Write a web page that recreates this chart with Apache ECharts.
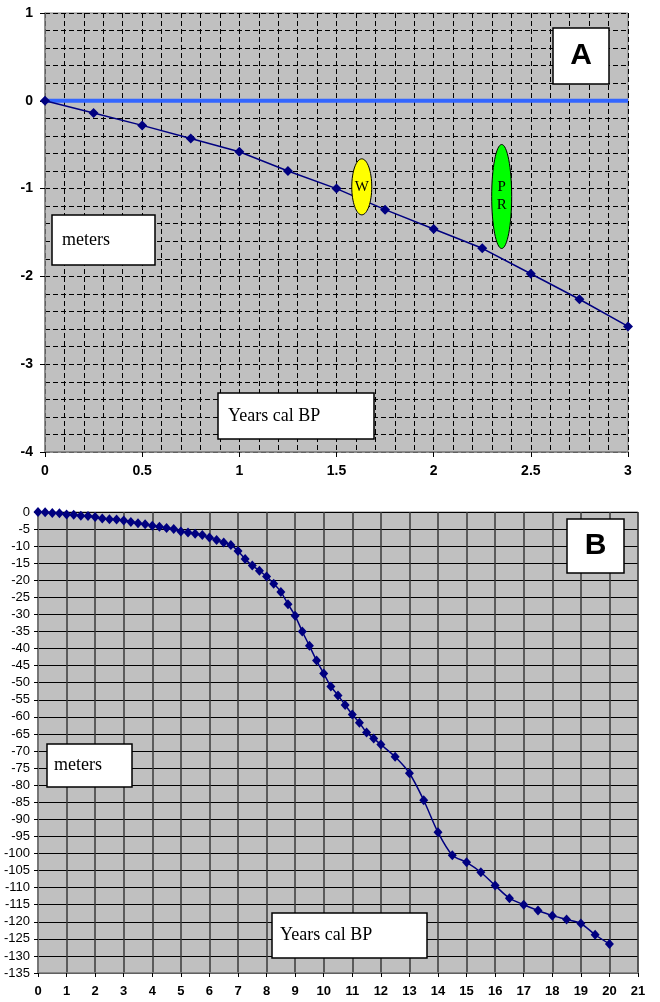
<!DOCTYPE html>
<html>
<head>
<meta charset="UTF-8">
<title>Sea level curves A / B</title>
<script src="https://cdn.jsdelivr.net/npm/echarts@6/dist/echarts.min.js"></script>
<style>
    body { margin: 0; background: #fff; }
    #chart { width: 660px; height: 1002px; }
</style>
</head>
<body>
<div id="chart"></div>
<script>
// ---- panel A : last 3 ka, meters ----
var ageA = [0, 0.25, 0.5, 0.75, 1, 1.25, 1.5, 1.75, 2, 2.25, 2.5, 2.75, 3];
var depthA = [0, -0.14, -0.28, -0.43, -0.58, -0.8, -1.0, -1.24, -1.46, -1.68, -1.97, -2.26, -2.57];
var zeroLineA = [[0, 0], [3, 0]];
var labelW = {x: 1.63, y: -0.98, text: 'W'};
var labelPR = {x: 2.35, y: -1.09, text: 'P\nR'};

// ---- panel B : last 20 ka, meters ----
var ageB = [0, 0.25, 0.5, 0.75, 1, 1.25, 1.5, 1.75, 2, 2.25, 2.5, 2.75, 3, 3.25, 3.5, 3.75,
    4, 4.25, 4.5, 4.75, 5, 5.25, 5.5, 5.75, 6, 6.25, 6.5, 6.75, 7, 7.25, 7.5, 7.75,
    8, 8.25, 8.5, 8.75, 9, 9.25, 9.5, 9.75, 10, 10.25, 10.5, 10.75, 11, 11.25, 11.5, 11.75,
    12, 12.5, 13, 13.5, 14, 14.5, 15, 15.5, 16, 16.5, 17, 17.5, 18, 18.5, 19, 19.5, 20];
var depthB = [0, -0.1, -0.3, -0.4, -0.7, -0.8, -1.1, -1.2, -1.5, -1.9, -2.1, -2.2, -2.5, -2.9, -3.3, -3.6,
    -4.0, -4.3, -4.7, -5.0, -5.7, -6.0, -6.4, -6.7, -7.5, -8.2, -8.9, -9.7, -11.4, -13.8, -15.7, -17.2,
    -18.9, -21.0, -23.4, -27.0, -30.4, -35.0, -39.2, -43.5, -47.3, -51.1, -53.7, -56.5, -59.3, -61.7, -64.6, -66.3,
    -68.1, -71.7, -76.5, -84.4, -93.8, -100.5, -102.6, -105.5, -109.4, -113.1, -115.0, -116.7, -118.2, -119.3, -120.5, -123.8, -126.5];

function pairs(xs, ys) {
    return xs.map(function (x, i) { return [x, ys[i]]; });
}

var navy = '#000080';
var dash = {color: '#000', width: 1, type: [5, 3]};
var boldLabel = {color: '#000', fontFamily: 'Liberation Sans, Arial', fontWeight: 'bold', fontSize: 14};

// white box with a text inside (Excel text boxes)
function textBox(left, top, w, h, text, font, padLeft) {
    return {
        type: 'group', x: left, y: top, z: 50,
        children: [
            {type: 'rect', shape: {x: 0, y: 0, width: w, height: h},
             style: {fill: '#fff', stroke: '#000', lineWidth: 1.5}},
            {type: 'text', x: padLeft == null ? w / 2 : padLeft, y: h / 2,
             style: {text: text, font: font, fill: '#000',
                     textAlign: padLeft == null ? 'center' : 'left', textVerticalAlign: 'middle'}}
        ]
    };
}

var myChart = echarts.init(document.getElementById('chart'));
var option = {
    animation: false,
    grid: [
        {left: 45, top: 13, width: 583, height: 439, show: true,
         backgroundColor: '#c0c0c0', borderColor: '#808080', borderWidth: 1},
        {left: 38, top: 512, width: 600, height: 461, show: true,
         backgroundColor: '#c0c0c0', borderColor: '#808080', borderWidth: 1}
    ],
    xAxis: [
        {
            gridIndex: 0, type: 'value', min: 0, max: 3, interval: 0.5,
            axisLine: {onZero: false, lineStyle: {color: '#808080', width: 1.5}},
            axisTick: {length: 5, lineStyle: {color: '#000'}},
            axisLabel: Object.assign({margin: 12}, boldLabel),
            splitLine: {show: true, lineStyle: dash},
            minorTick: {show: false, splitNumber: 5},
            minorSplitLine: {show: true, lineStyle: dash}
        },
        {
            gridIndex: 1, type: 'value', min: 0, max: 21, interval: 1,
            axisLine: {onZero: false, lineStyle: {color: '#808080', width: 1.5}},
            axisTick: {length: 4, lineStyle: {color: '#000'}},
            axisLabel: Object.assign({margin: 12}, boldLabel, {fontSize: 13}),
            splitLine: {show: true, lineStyle: {color: '#3a3a3a', width: 1.5}}
        }
    ],
    yAxis: [
        {
            gridIndex: 0, type: 'value', min: -4, max: 1, interval: 1,
            axisLine: {show: true, onZero: false, lineStyle: {color: '#808080', width: 1.5}},
            axisTick: {show: true, length: 5, lineStyle: {color: '#000'}},
            axisLabel: Object.assign({margin: 12}, boldLabel),
            splitLine: {show: true, lineStyle: dash},
            minorTick: {show: false, splitNumber: 5},
            minorSplitLine: {show: true, lineStyle: dash}
        },
        {
            gridIndex: 1, type: 'value', min: -135, max: 0, interval: 5,
            axisLine: {show: true, onZero: false, lineStyle: {color: '#808080', width: 1.5}},
            axisTick: {show: true, length: 4, lineStyle: {color: '#000'}},
            axisLabel: {margin: 8, color: '#000', fontFamily: 'Liberation Sans, Arial', fontSize: 13},
            splitLine: {show: true, lineStyle: {color: '#000', width: 1}}
        }
    ],
    series: [
        {
            name: 'zero', type: 'line', xAxisIndex: 0, yAxisIndex: 0,
            data: zeroLineA, showSymbol: false, z: 3,
            lineStyle: {color: '#3366ff', width: 4}
        },
        {
            name: 'A', type: 'line', xAxisIndex: 0, yAxisIndex: 0,
            data: pairs(ageA, depthA), symbol: 'diamond', symbolSize: 10, z: 4,
            itemStyle: {color: navy}, lineStyle: {color: navy, width: 1.5}
        },
        {
            name: 'B', type: 'line', xAxisIndex: 1, yAxisIndex: 1,
            data: pairs(ageB, depthB), symbol: 'diamond', symbolSize: [9, 10], smooth: 0.3, z: 4,
            itemStyle: {color: navy}, lineStyle: {color: navy, width: 1.5}
        }
    ]
};
myChart.setOption(option, true);

// annotations: ellipses sit on data coordinates, text boxes at fixed places
var pW = myChart.convertToPixel({gridIndex: 0}, [labelW.x, labelW.y]);
var pPR = myChart.convertToPixel({gridIndex: 0}, [labelPR.x, labelPR.y]);
var serif = '18px "Liberation Serif", "Times New Roman", serif';
myChart.setOption({
    graphic: [
        {type: 'ellipse', z: 50, shape: {cx: pW[0], cy: pW[1], rx: 10, ry: 28},
         style: {fill: '#ffff00', stroke: '#000', lineWidth: 1}},
        {type: 'text', z: 51, x: pW[0], y: pW[1],
         style: {text: labelW.text, font: '15px "Liberation Serif", serif', fill: '#000',
                 textAlign: 'center', textVerticalAlign: 'middle'}},
        {type: 'ellipse', z: 50, shape: {cx: pPR[0], cy: pPR[1], rx: 10, ry: 52},
         style: {fill: '#00ff00', stroke: '#000', lineWidth: 1}},
        {type: 'text', z: 51, x: pPR[0], y: pPR[1],
         style: {text: labelPR.text, font: '15px "Liberation Serif", serif', lineHeight: 18, fill: '#000',
                 textAlign: 'center', textVerticalAlign: 'middle'}},
        textBox(553, 28, 56, 56, 'A', 'bold 30px "Liberation Sans", Arial'),
        textBox(52, 215, 103, 50, 'meters', serif, 10),
        textBox(218, 393, 156, 46, 'Years cal BP', serif, 10),
        textBox(567, 519, 57, 54, 'B', 'bold 30px "Liberation Sans", Arial'),
        textBox(47, 744, 85, 43, 'meters', serif, 7),
        textBox(272, 913, 155, 45, 'Years cal BP', serif, 8)
    ]
});
window.onresize = myChart.resize;
</script>
</body>
</html>
